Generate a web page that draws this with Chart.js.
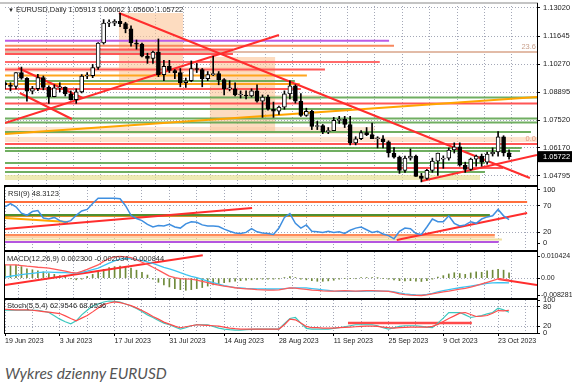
<!DOCTYPE html>
<html><head><meta charset="utf-8">
<script src="https://cdn.jsdelivr.net/npm/chart.js@4/dist/chart.umd.min.js"></script>
<style>
html,body{margin:0;padding:0;background:#fff}
body{width:572px;height:385px;position:relative;overflow:hidden;font-family:'Liberation Sans',Arial,sans-serif}
canvas{position:absolute;left:0}
.fr{position:absolute;z-index:5}
.tx{position:absolute;z-index:6;font-size:7.5px;line-height:9px;color:#2a2a2a;white-space:nowrap}
.cap{position:absolute;left:5px;top:364px;font-family:Lato,'Open Sans',sans-serif;font-style:italic;font-size:15.5px;color:#555;white-space:nowrap}
</style></head><body>
<canvas id="cMain" width="572" height="191" style="top:0"></canvas>
<canvas id="cRsi" width="572" height="75" style="top:181px"></canvas>
<canvas id="cMacd" width="572" height="58" style="top:246px"></canvas>
<canvas id="cSto" width="572" height="54" style="top:294px"></canvas>

<div class="fr" style="left:0;top:2px;width:538px;height:2px;background:#c4c4c4"></div>
<div class="fr" style="left:537px;top:3px;width:1px;height:331px;background:#000"></div>
<div class="fr" style="left:4px;top:185px;width:534px;height:2px;background:#000"></div>
<div class="fr" style="left:4px;top:250px;width:534px;height:2px;background:#000"></div>
<div class="fr" style="left:4px;top:298px;width:534px;height:2px;background:#000"></div>
<div class="fr" style="left:4px;top:333px;width:534px;height:1px;background:#000"></div>
<div class="fr" style="left:4px;top:185px;width:1px;height:149px;background:#000"></div>

<div class="tx" style="left:8px;top:5px"><span style="font-size:6px">▼</span> EURUSD,Daily 1.05913 1.06062 1.05600 1.05722</div>
<div class="tx" style="left:8px;top:189px">RSI(9) 48.3123</div>
<div class="tx" style="left:7px;top:254px">MACD(12,26,9) 0.002300 -0.002034 -0.000844</div>
<div class="tx" style="left:7px;top:301px">Stoch(5,5,4) 62.9546 68.6536</div>
<div class="cap">Wykres dzienny EURUSD</div>

<script>
// ---------------- DATA ----------------
const dateLabels = ['19 Jun 2023','3 Jul 2023','17 Jul 2023','31 Jul 2023','14 Aug 2023','28 Aug 2023','11 Sep 2023','25 Sep 2023','9 Oct 2023','23 Oct 2023'];
const gridIdx = [0,5,10,15,20,25,30,35,40,45,50,55,60,65,70,75,80,85,90,95];
const xMax = 97.1;

const opens = [1.0935,1.0924,1.0917,1.0985,1.0957,1.0894,1.0906,1.0960,1.0912,1.0867,
1.0910,1.0912,1.0880,1.0852,1.0890,1.0968,1.0970,1.1010,1.1130,1.1228,
1.1228,1.1237,1.1225,1.1200,1.1130,1.1125,1.1065,1.1055,1.1085,1.0975,
1.1015,1.0995,1.0985,1.0935,1.0945,1.1005,1.1000,1.0955,1.0975,1.0980,
1.0950,1.0905,1.0905,1.0875,1.0875,1.0870,1.0895,1.0845,1.0865,1.0805,
1.0795,1.0815,1.0880,1.0920,1.0845,1.0775,1.0795,1.0720,1.0725,1.0695,
1.0700,1.0750,1.0755,1.0730,1.0640,1.0660,1.0690,1.0680,1.0660,1.0660,
1.0645,1.0590,1.0570,1.0505,1.0565,1.0575,1.0475,1.0465,1.0505,1.0550,
1.0560,1.0565,1.0605,1.0620,1.0530,1.0510,1.0560,1.0575,1.0545,1.0585,
1.0595,1.0670,1.05913];
const highs = [1.0940,1.0935,1.0985,1.1012,1.0960,1.0917,1.0976,1.0968,1.0920,1.0925,
1.0935,1.0915,1.0895,1.0905,1.0975,1.0985,1.1025,1.1132,1.1245,1.1244,
1.1245,1.1276,1.1232,1.1215,1.1145,1.1130,1.1080,1.1090,1.1150,1.1045,
1.1045,1.1000,1.1005,1.0958,1.1042,1.1030,1.1005,1.0990,1.1065,1.0990,
1.0955,1.0945,1.0935,1.0895,1.0895,1.0905,1.0925,1.0875,1.0875,1.0840,
1.0820,1.0895,1.0945,1.0925,1.0882,1.0810,1.0800,1.0745,1.0730,1.0715,
1.0765,1.0770,1.0770,1.0770,1.0670,1.0700,1.0715,1.0737,1.0670,1.0675,
1.0650,1.0617,1.0575,1.0575,1.0610,1.0580,1.0490,1.0510,1.0565,1.0590,
1.0576,1.0615,1.0640,1.0640,1.0545,1.0565,1.0580,1.0585,1.0595,1.0615,
1.0695,1.0675,1.06062];
const lows = [1.0905,1.0895,1.0905,1.0952,1.0844,1.0880,1.0896,1.0900,1.0833,1.0866,
1.0890,1.0870,1.0850,1.0834,1.0885,1.0955,1.0960,1.1000,1.1125,1.1210,
1.1215,1.1210,1.1180,1.1115,1.1100,1.1062,1.1030,1.1030,1.0965,1.0945,
1.0985,1.0955,1.0915,1.0912,1.0940,1.0985,1.0915,1.0945,1.0970,1.0925,
1.0875,1.0895,1.0870,1.0860,1.0855,1.0865,1.0840,1.0765,1.0800,1.0765,
1.0780,1.0805,1.0855,1.0835,1.0770,1.0770,1.0705,1.0705,1.0685,1.0685,
1.0700,1.0735,1.0715,1.0630,1.0630,1.0655,1.0675,1.0660,1.0615,1.0615,
1.0570,1.0565,1.0490,1.0495,1.0555,1.0475,1.0448,1.0460,1.0495,1.0480,
1.0515,1.0555,1.0590,1.0525,1.0495,1.0505,1.0525,1.0525,1.0535,1.0575,
1.0575,1.0575,1.05600];
const closes = [1.0924,1.0917,1.0985,1.0957,1.0894,1.0906,1.0960,1.0912,1.0867,1.0910,
1.0912,1.0880,1.0852,1.0890,1.0968,1.0970,1.1010,1.1130,1.1228,1.1228,
1.1237,1.1225,1.1200,1.1130,1.1125,1.1065,1.1055,1.1085,1.0975,1.1015,
1.0995,1.0985,1.0935,1.0945,1.1005,1.1000,1.0955,1.0975,1.0980,1.0950,
1.0905,1.0905,1.0875,1.0875,1.0870,1.0895,1.0845,1.0865,1.0805,1.0795,
1.0815,1.0880,1.0920,1.0845,1.0775,1.0795,1.0720,1.0725,1.0695,1.0700,
1.0750,1.0755,1.0730,1.0640,1.0660,1.0690,1.0680,1.0660,1.0660,1.0645,
1.0590,1.0570,1.0505,1.0565,1.0575,1.0475,1.0465,1.0505,1.0550,1.0590,
1.0565,1.0605,1.0620,1.0530,1.0510,1.0560,1.0575,1.0545,1.0585,1.0595,
1.0670,1.0590,1.05722];
const lastClose = 1.05722;
const priceTicks = [1.13020,1.11645,1.10270,1.08895,1.07520,1.06170,1.05722,1.04795];
const priceMin = 1.043293, priceMax = 1.132655;

// horizontal levels on the price chart: price, from bar, to bar
const levelPrice = [1.11414,1.11169,1.10860,1.10982,1.10761,1.10369,1.10000,1.09706,1.09436,1.09288,1.09043,1.08626,1.08331,1.08061,1.07594,1.07398,1.06932,1.06343,1.06146,1.05999,1.05410,1.05164,1.04968];
const levelFrom  = [0,0,0,0,0,0,0,0,0,0,0,0,0,0,0,0,0,0,0,0,0,0,0];
const levelTo    = [70.1,71.0,97.1,41.6,41.6,68.4,58.4,55.1,52.9,53.8,54.0,97.1,97.1,63.3,97.1,97.1,96.0,97.1,94.3,94.0,87.6,90.9,87.6];
// trend lines on the price chart: from bar, price -> to bar, price
const trendX0 = [20.8, 0, 2.4, 2.7, 76.1, 0];
const trendP0 = [1.12774,1.07374,1.10074,1.08847,1.04526,1.06833];
const trendX1 = [95.8, 50.0, 14.2, 12.2, 97.1, 97.1];
const trendP1 = [1.04673,1.11694,1.08601,1.07570,1.05802,1.08650];
// shaded zones: from bar, to bar, high price, low price
const zoneFrom = [20.8,37.4,0,0,0,48,0,0];
const zoneTo   = [32.5,49.3,49.3,67.5,97.1,57.5,41.6,86.7];
const zoneHigh = [1.12774,1.10614,1.10123,1.07177,1.06687,1.08748,1.11001,1.04820];
const zoneLow  = [1.09338,1.06981,1.09877,1.06833,1.06441,1.08503,1.10741,1.04575];
const fiboLevel = [1.10860,1.06343];
const fiboText = ['23.6','0.0'];

const rsi = [68,74,68,56,52,59,61,47,45,48, 42,39,42,52,60,63,74,84,84,84, 84,83,70,52,46,42,35,30,33,32,
 35,30,28,36,40,39,34,32,32,31, 26,22,19,18,20,27,21,19,18,16, 28,48,55,37,28,34,22,21,20,22,
 20,21,18,24,28,30,25,20,22,17, 14,8,22,28,27,18,16,30,45,40, 40,51,37,32,34,40,37,45,49,51, 63,51,44];
const rsiTicks = [100,70,20,0];
const rsiLevel = [76.9,52.6,50.7,15.1,11.4,6.7,2.0];
const rsiLevelTo = [95.3,88.5,88.5,89.4,89.4,90.7,90.1];
const rsiTrendX0 = [0,71.5,0], rsiTrendV0 = [26.3,5.7,46.9];
const rsiTrendX1 = [45.1,95.3,11.5], rsiTrendV1 = [65.7,56.3,39.4];

// MACD (values x 1e-3)
const macdHist = [6.5,6.0,6.2,5.5,4.5,4.0,3.5,3.0,2.2,1.8, 1.2,0.6,-0.3,-0.8,-0.5,0.8,1.8,3.0,4.2,5.0,
 5.5,5.8,5.5,4.8,3.8,2.8,1.5,-0.5,-2.0,-3.2, -4.2,-5.0,-5.5,-5.8,-5.5,-5.0,-4.5,-3.8,-3.2,-2.6,
 -2.2,-1.8,-1.5,-1.2,-1.0,-0.8,-0.6,-0.5,-0.5,-0.5, -0.4,0.3,0.8,0.3,-0.5,-0.8,-1.2,-1.5,-1.5,-1.3,
 -1.0,-0.5,-0.2,-0.3,-0.3,0.2,0.3,0.2,0.1,-0.2, -0.5,-0.8,-1.2,-1.3,-1.2,-1.5,-1.6,-1.2,-0.5,0.5,
 1.2,2.0,2.6,2.2,1.8,2.5,3.0,2.8,3.5,3.8, 4.2,3.8,2.5];
const macdPink = [6.3,6.3,6.3,6.0,5.7,5.5,5.2,5.0,4.8,4.3, 3.8,3.3,2.8,2.4,3.2,4.2,5.3,6.3,8.0,9.4,
 10.2,10.4,10.2,9.8,8.8,7.6,6.6,5.2,3.8,2.4, 1.0,0.2,-0.2,-0.4,-0.5,-1.0,-1.6,-2.2,-2.8,-3.3,
 -3.8,-4.2,-4.6,-4.9,-5.1,-5.3,-5.5,-5.6,-5.7,-5.7, -5.6,-5.1,-4.7,-4.8,-5.1,-5.4,-5.7,-5.9,-6.1,-6.2,
 -6.2,-6.1,-6.0,-6.1,-6.2,-6.1,-6.0,-6.0,-6.1,-6.2, -6.3,-6.8,-7.5,-7.9,-8.1,-8.2,-8.3,-8.0,-7.5,-7.0,
 -6.6,-6.2,-5.7,-5.3,-4.9,-4.3,-3.6,-2.8,-2.0,-1.2, -0.4,-0.6,-0.9];
const macdBlue = [0.5,0.9,1.3,1.7,2.0,2.3,2.6,2.9,2.9,2.8, 2.7,2.6,2.5,2.4,2.8,3.4,4.1,4.8,6.0,7.2,
 8.3,9.1,9.5,9.4,9.0,8.4,7.8,7.0,6.1,5.2, 4.4,3.6,2.6,1.7,0.9,0.2,-0.6,-1.4,-2.1,-2.9,
 -3.6,-4.1,-4.5,-4.7,-4.9,-5.0,-5.1,-5.1,-5.2,-5.2, -5.1,-5.0,-4.8,-4.7,-4.7,-4.7,-5.0,-5.3,-5.6,-5.9,
 -6.2,-6.3,-6.3,-6.3,-6.3,-6.3,-6.2,-6.2,-6.2,-6.2, -6.2,-6.6,-7.1,-7.5,-7.8,-8.0,-8.1,-7.8,-7.3,-6.6,
 -6.0,-5.5,-5.0,-4.6,-4.2,-3.8,-3.4,-3.0,-2.5,-2.3, -2.2,-2.2,-2.3];
const macdTicks = [0.010424,0,-0.008281];
const macdMin = -0.0095, macdMax = 0.0125;
const macdTrendX0 = [0,90], macdTrendV0 = [-0.0033,-0.0004];
const macdTrendX1 = [36.1,97.1], macdTrendV1 = [0.0110,-0.0033];

const stochMain = [69,69,69,69,69,69,69,66,62,52, 42,34,28,37,55,69,82,88,94,97, 96,94,88,82,74,65,55,47,38,30,
 25,18,12,16,22,25,25,25,20,15, 12,10,9,9,10,11,12,12,12,12, 12,28,44,47,30,14,12,12,12,12,
 14,16,19,22,25,25,25,25,22,16, 12,16,20,22,22,22,20,18,16,30, 45,62,62,62,55,47,50,53,58,62, 75,70,63];
const stochSignal = [72,71,70,70,70,69,67,65,63,61, 59,52,44,37,45,53,64,76,86,91, 94,92,88,83,76,68,60,50,42,33,
 27,21,16,19,22,25,24,23,22,21, 18,15,13,12,12,12,12,12,12,12, 12,25,42,40,30,20,16,16,15,15,
 15,16,17,18,19,20,21,21,20,18, 16,15,16,17,18,18,18,18,20,26, 35,44,52,60,62,56,50,51,53,60, 68,67,69];
const stochTicks = [100,80,20,0];
const stochLevel = 30, stochLevelFrom = 62.6, stochLevelTo = 85.2;

// ---------------- STYLES ----------------
const GRID = '#a3a7b7';
const GREEN = 'rgba(96,165,80,0.9)', RED = '#ff5656', ORANGE = '#ffa51f';
const levelColor = ['#bb5be6','#f7875d','#e2bba7',RED,RED,'#ff6a6a',RED,ORANGE,GREEN,ORANGE,RED,GREEN,RED,GREEN,GREEN,GREEN,GREEN,RED,GREEN,GREEN,GREEN,RED,GREEN];
const trendColor = ['#ff2d2d','#ff2d2d','#ff2d2d','#ff2d2d','#ff2d2d','#ffa500'];
const zoneColor = ['rgba(251,196,150,0.6)','rgba(251,196,150,0.6)','rgba(251,200,160,0.45)','rgba(251,200,160,0.45)','rgba(251,200,160,0.5)','rgba(251,200,160,0.45)','rgba(255,90,90,0.5)','rgba(232,225,150,0.7)'];
const fiboColor = ['#c9a08c','#e2937f'];
const rsiLevelColor = ['#ff6f3c','#4f8f2f','#d9902c','#ff8c5a','#ffd0a8','#efe0a0','#b455e0'];
const rsiTrendColor = ['#ff2d2d','#ff2d2d','#ffa500'];

Chart.defaults.font.family = "'Liberation Sans', Arial, sans-serif";
Chart.defaults.color = '#222';

function seg(x0, y0, x1, y1, color, width, order) {
  return {type:'line', data:[{x:x0,y:y0},{x:x1,y:y1}], borderColor:color, borderWidth:width,
    pointRadius:0, fill:false, tension:0, order:order};
}
function xScale(show) {
  return {
    type:'linear', min:0, max:xMax, offset:false,
    afterBuildTicks: s => { s.ticks = gridIdx.map(v => ({value:v})); },
    ticks: {display:show, autoSkip:false, maxRotation:0, minRotation:0, align:'start', padding:1,
      font:{size:7}, color:'#222', callback: v => (v % 10 === 0 ? dateLabels[v/10] : '')},
    grid: {color:GRID, lineWidth:1, drawTicks:show, tickLength:3,
      tickColor: c => (c.tick && c.tick.value % 10 === 0 ? '#000' : 'rgba(0,0,0,0)')},
    border: {display:false, dash:[1,2]},
    afterFit: s => { s.height = show ? 15 : 0; s.paddingLeft = 0; s.paddingRight = 0; }
  };
}
function yScale(min, max, ticks, fmt, gridFn, extraTicks) {
  return {
    type:'linear', position:'right', min:min, max:max,
    afterBuildTicks: s => { s.ticks = ticks.map(v => ({value:v})); },
    ticks: Object.assign({autoSkip:false, padding:3, font:{size:7.5}, color:'#222', callback:fmt}, extraTicks || {}),
    grid: {color: c => (c.tick && gridFn(c.tick.value) ? GRID : 'rgba(0,0,0,0)'), drawTicks:true, tickLength:3, tickColor:'#000'},
    border: {display:false, dash:[1,2]},
    afterFit: s => { s.width = 35; s.paddingTop = 0; s.paddingBottom = 0; }
  };
}
const baseOpts = (padTop, padBottom) => ({
  responsive:false, animation:false, devicePixelRatio:1, events:[],
  layout:{padding:{left:5, right:0, top:padTop, bottom:padBottom}},
  plugins:{legend:{display:false}, tooltip:{enabled:false}}
});

const zonePlugin = {
  id:'zones',
  beforeDatasetsDraw(chart) {
    const {ctx, chartArea:a, scales:{x, y}} = chart;
    ctx.save(); ctx.beginPath(); ctx.rect(a.left, a.top, a.right - a.left, a.bottom - a.top); ctx.clip();
    for (let i = 0; i < zoneFrom.length; i++) {
      const x0 = x.getPixelForValue(zoneFrom[i]), x1 = x.getPixelForValue(zoneTo[i]);
      const y0 = y.getPixelForValue(zoneHigh[i]), y1 = y.getPixelForValue(zoneLow[i]);
      ctx.fillStyle = zoneColor[i]; ctx.fillRect(x0, y0, x1 - x0, y1 - y0);
    }
    ctx.restore();
  },
  afterDatasetsDraw(chart) {
    const {ctx, chartArea:a, scales:{y}} = chart;
    ctx.save(); ctx.font = "7.5px 'Liberation Sans', Arial, sans-serif";
    ctx.textAlign = 'right'; ctx.textBaseline = 'bottom';
    fiboLevel.forEach((p, i) => { ctx.fillStyle = fiboColor[i]; ctx.fillText(fiboText[i], a.right - 1, y.getPixelForValue(p) - 1); });
    ctx.restore();
  }
};

// ---------------- MAIN PRICE CHART ----------------
const mainSets = [
  {type:'bar', data: opens.map((o, i) => ({x:i, y:[o, closes[i]]})),
   backgroundColor: opens.map((o, i) => closes[i] >= o ? '#ffffff' : '#000000'),
   borderColor:'#000', borderWidth:1, borderSkipped:false, barThickness:4, minBarLength:1, grouped:false, order:0},
  {type:'bar', data: lows.map((l, i) => ({x:i, y:[l, highs[i]]})),
   backgroundColor:'#000', borderWidth:0, barThickness:1, grouped:false, order:1}
];
trendX0.forEach((x0, i) => mainSets.push(seg(x0, trendP0[i], trendX1[i], trendP1[i], trendColor[i], 2, 2)));
levelPrice.forEach((p, i) => mainSets.push(seg(levelFrom[i], p, levelTo[i], p, levelColor[i], 2, 3)));

new Chart(document.getElementById('cMain'), {
  type:'bar',
  data:{datasets:mainSets},
  options: Object.assign(baseOpts(3, 6), {
    scales:{
      x: xScale(false),
      y: yScale(priceMin, priceMax, priceTicks, v => v.toFixed(5), v => v !== lastClose, {
        color: c => (c.tick && c.tick.value === lastClose ? '#fff' : '#222'),
        showLabelBackdrop: c => !!(c.tick && c.tick.value === lastClose),
        backdropColor:'#000', backdropPadding:{top:1, bottom:1, left:5, right:3}
      })
    }
  }),
  plugins:[zonePlugin]
});

// ---------------- RSI ----------------
const rsiSets = [
  {type:'line', data: rsi.map((v, i) => ({x:i, y:v})), borderColor:'#3f8fe0', borderWidth:1.5, pointRadius:0, tension:0, order:0}
];
rsiTrendX0.forEach((x0, i) => rsiSets.push(seg(x0, rsiTrendV0[i], rsiTrendX1[i], rsiTrendV1[i], rsiTrendColor[i], 2, 1)));
rsiLevel.forEach((v, i) => rsiSets.push(seg(0, v, rsiLevelTo[i], v, rsiLevelColor[i], 2, 2)));
new Chart(document.getElementById('cRsi'), {
  type:'line',
  data:{datasets:rsiSets},
  options: Object.assign(baseOpts(6, 6), {
    scales:{ x: xScale(false), y: yScale(-13, 105, rsiTicks, v => String(v), v => v === 70 || v === 20) }
  })
});

// ---------------- MACD ----------------
const macdSets = [
  {type:'line', data: macdPink.map((v, i) => ({x:i, y:v / 1000})), borderColor:'#ff5a5a', borderWidth:1.3, pointRadius:0, tension:0, order:0},
  {type:'line', data: macdBlue.map((v, i) => ({x:i, y:v / 1000})), borderColor:'#3cc4f2', borderWidth:1.3, pointRadius:0, tension:0, order:1},
  {type:'bar', data: macdHist.map((v, i) => ({x:i, y:v / 1000})), backgroundColor:'#6f8a3a', barThickness:1, grouped:false, order:3}
];
macdTrendX0.forEach((x0, i) => macdSets.push(seg(x0, macdTrendV0[i], macdTrendX1[i], macdTrendV1[i], '#ff2d2d', 2, 2)));
new Chart(document.getElementById('cMacd'), {
  type:'bar',
  data:{datasets:macdSets},
  options: Object.assign(baseOpts(6, 6), {
    scales:{ x: xScale(false), y: yScale(macdMin, macdMax, macdTicks, v => (v === 0 ? '0.00' : v.toFixed(6)), v => v === 0,
      {padding:1, font:{size:7}}) }
  })
});

// ---------------- STOCHASTIC ----------------
const stoSets = [
  {type:'line', data: stochMain.map((v, i) => ({x:i, y:v})), borderColor:'#3cc8be', borderWidth:1.2, pointRadius:0, tension:0, order:1},
  {type:'line', data: stochSignal.map((v, i) => ({x:i, y:v})), borderColor:'#ff4a4a', borderWidth:1.2, pointRadius:0, tension:0, order:0},
  seg(stochLevelFrom, stochLevel, stochLevelTo, stochLevel, '#ff4a4a', 2.5, 2)
];
new Chart(document.getElementById('cSto'), {
  type:'line',
  data:{datasets:stoSets},
  options: Object.assign(baseOpts(6, 0), {
    scales:{ x: xScale(true), y: yScale(0, 100, stochTicks, v => String(v), v => v === 80 || v === 20) }
  })
});
</script>
</body></html>
